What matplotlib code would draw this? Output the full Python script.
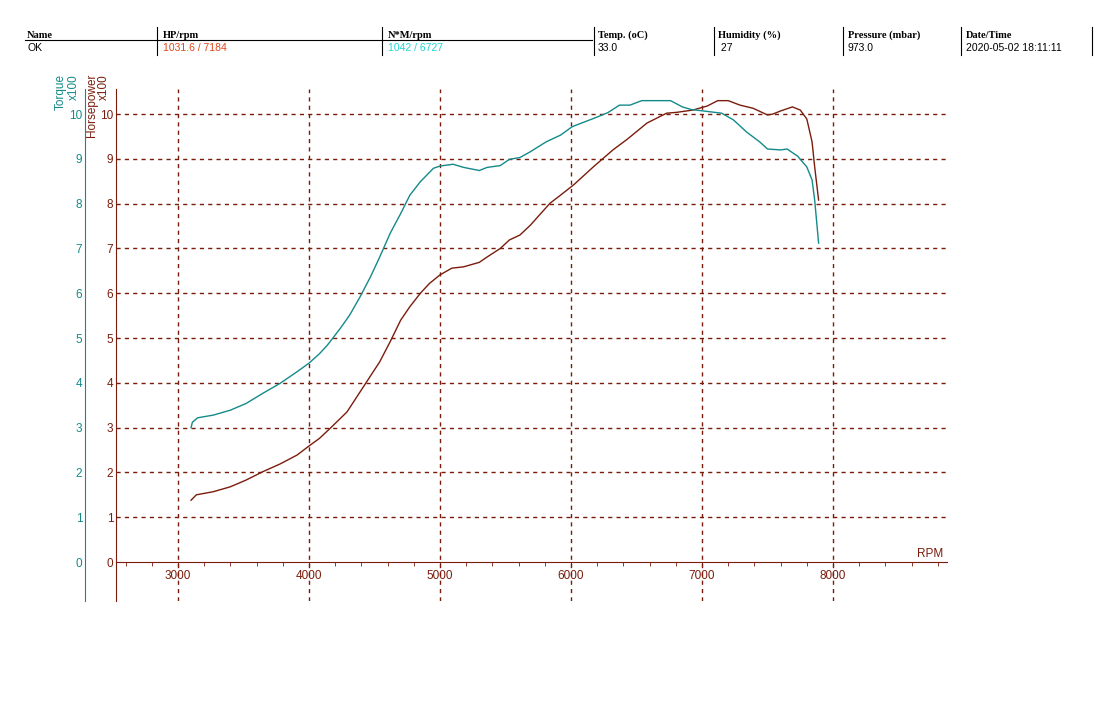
import matplotlib
matplotlib.use("Agg")
import matplotlib.pyplot as plt
from matplotlib.lines import Line2D
from matplotlib.ticker import MultipleLocator

brown = "#7a1c0c"
teal = "#138a8a"

# torque (N*m x100)
tq_rpm = [3100, 3110, 3150, 3270, 3400, 3520, 3650, 3780, 3910, 4000, 4080, 4140,
          4240, 4310, 4390, 4470, 4540, 4620, 4700, 4770, 4850, 4950, 5000, 5100,
          5180, 5300, 5360, 5460, 5530, 5610, 5690, 5810, 5920, 6010, 6170, 6280,
          6370, 6450, 6540, 6760, 6850, 6920, 7010, 7150, 7240, 7340, 7440, 7500,
          7600, 7650, 7730, 7800, 7840, 7860, 7890]
tq_val = [3.0, 3.12, 3.22, 3.28, 3.39, 3.54, 3.77, 3.99, 4.25, 4.44, 4.65, 4.84,
          5.22, 5.51, 5.92, 6.37, 6.81, 7.34, 7.78, 8.19, 8.49, 8.79, 8.84, 8.88,
          8.81, 8.74, 8.81, 8.85, 8.99, 9.03, 9.16, 9.38, 9.53, 9.72, 9.9, 10.03,
          10.2, 10.2, 10.3, 10.3, 10.16, 10.1, 10.07, 10.02, 9.87, 9.6, 9.38, 9.22,
          9.2, 9.22, 9.06, 8.82, 8.53, 8.08, 7.12]

# horsepower (x100)
hp_rpm = [3100, 3140, 3270, 3400, 3520, 3650, 3780, 3910, 4000, 4080, 4160, 4290,
          4415, 4540, 4620, 4700, 4770, 4850, 4920, 5000, 5090, 5180, 5300, 5360,
          5460, 5530, 5610, 5690, 5760, 5840, 5920, 6020, 6170, 6320, 6430, 6580,
          6730, 6810, 6930, 7040, 7120, 7200, 7290, 7390, 7500, 7540, 7600, 7690,
          7750, 7800, 7840, 7860, 7890]
hp_val = [1.38, 1.5, 1.57, 1.68, 1.83, 2.02, 2.19, 2.39, 2.59, 2.76, 2.98, 3.35,
          3.91, 4.47, 4.92, 5.40, 5.70, 6.0, 6.22, 6.41, 6.56, 6.59, 6.69, 6.81,
          7.0, 7.19, 7.30, 7.52, 7.75, 8.01, 8.19, 8.42, 8.82, 9.2, 9.44, 9.8,
          10.02, 10.04, 10.09, 10.18, 10.3, 10.3, 10.2, 10.13, 9.98, 10.0, 10.07,
          10.16, 10.09, 9.89, 9.38, 8.82, 8.08]

headers = ["Name", "HP/rpm", "N*M/rpm", "Temp. (oC)", "Humidity (%)", "Pressure (mbar)", "Date/Time"]
values = ["OK", "1031.6 / 7184", "1042 / 6727", "33.0", " 27", "973.0", "2020-05-02 18:11:11"]
value_colors = ["black", "#e0461a", "#22d4d4", "black", "black", "black", "black"]

W, H = 1119, 704
fig = plt.figure(figsize=(W / 100, H / 100), dpi=100)

# header table, laid out in pixels
col_x = [27, 163, 388, 598, 718, 848, 966]
sep_x = [157, 382, 594, 714, 843, 961, 1092]
for x, h, v, c in zip(col_x, headers, values, value_colors):
    fig.text(x / W, 1 - 35 / H, h, fontsize=7.5, fontweight="bold",
             family="Liberation Serif", va="center")
    fig.text(x / W, 1 - 48 / H, v, fontsize=7.5, color=c,
             family="Liberation Sans", va="center")
for x in sep_x:
    fig.add_artist(Line2D([x / W, x / W], [1 - 27 / H, 1 - 55 / H], color="black", lw=0.8))
fig.add_artist(Line2D([25 / W, 592 / W], [1 - 40 / H, 1 - 40 / H], color="black", lw=0.8))

# main axes
left, right, top, bottom = 116, 947, 89, 601
ax = fig.add_axes([left / W, 1 - bottom / H, (right - left) / W, (bottom - top) / H])
ax.set_xlim(2527, 8870)
ax.set_ylim(-0.87, 10.56)

ax.plot(hp_rpm, hp_val, color=brown, lw=1)

for s in ["top", "right"]:
    ax.spines[s].set_visible(False)
ax.spines["left"].set_color(brown)
ax.spines["bottom"].set_position(("data", 0))
ax.spines["bottom"].set_color(brown)

ax.xaxis.set_minor_locator(MultipleLocator(200))
ax.set_xticks(range(3000, 9000, 1000))
ax.tick_params(axis="x", which="both", direction="out", length=3, color=brown,
               labelcolor=brown, labelsize=8.5, pad=3)
ax.set_yticks(range(0, 11))
ax.tick_params(axis="y", length=0, labelcolor=brown, labelsize=8.5, pad=2)
for lab in ax.get_xticklabels() + ax.get_yticklabels():
    lab.set_family("Liberation Sans")

dash = (0, (3, 3))
for r in range(3000, 9000, 1000):
    ax.axvline(r, color=brown, lw=1, ls=dash, zorder=0)
for v in range(1, 11):
    ax.axhline(v, color=brown, lw=1, ls=dash, zorder=0)

ax.text(8740, 0.05, "RPM", color=brown, fontsize=8.5, family="Liberation Sans",
        ha="center", va="bottom")

# torque axis on the far left (31 px = 22.3 pt outward)
ax2 = ax.twinx()
ax2.set_ylim(ax.get_ylim())
ax2.plot(tq_rpm, tq_val, color=teal, lw=1)
for s in ["top", "right", "bottom"]:
    ax2.spines[s].set_visible(False)
ax2.spines["left"].set_visible(True)
ax2.spines["left"].set_position(("outward", 22.3))
ax2.spines["left"].set_color(teal)
ax2.yaxis.set_ticks_position("left")
ax2.set_yticks(range(0, 11))
ax2.tick_params(axis="y", length=0, labelcolor=teal, labelsize=8.5, pad=2)
for lab in ax2.get_yticklabels():
    lab.set_family("Liberation Sans")

# axis titles, each word a separate vertical text
for x, txt, col in [(61, "Torque", teal), (74, "x100", teal),
                    (92, "Horsepower", brown), (104, "x100", brown)]:
    fig.text(x / W, 1 - 74 / H, txt, rotation=90, color=col, fontsize=8.5,
             family="Liberation Sans", ha="center", va="top")

fig.savefig("out.png", dpi=100)
